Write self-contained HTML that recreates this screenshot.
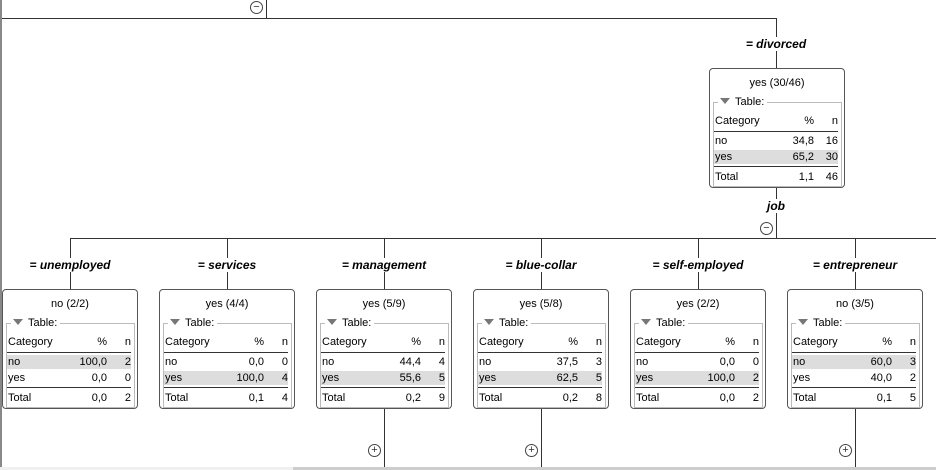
<!DOCTYPE html>
<html><head><meta charset="utf-8"><style>
body{margin:0;width:936px;height:470px;position:relative;overflow:hidden;background:#fff;font-family:"Liberation Sans",sans-serif;font-size:11px;color:#000}
.a{position:absolute}
.l{position:absolute;background:#333}
.box{position:absolute;width:134px;height:118px;border:1px solid #555;border-radius:4px;background:#fff}
.box .t{position:absolute;left:0;right:0;top:8px;text-align:center}
.box .fs{position:absolute;left:3px;top:33px;width:127px;height:83px;border:1px solid #bbb}
.box .lg{position:absolute;left:8px;top:27px;background:#fff;padding:0 3px 0 2px}
.tri{display:inline-block;width:0;height:0;border-left:5px solid transparent;border-right:5px solid transparent;border-top:6px solid #777;margin-right:5px;vertical-align:1px}
.r{position:absolute;left:4px;width:124px;height:14px;line-height:14px}
.r span{position:absolute}
.r .c1{left:1px}.r .c2{right:24px}.r .c3{right:0}
.hl{background:#ddd}
.hr{position:absolute;left:4px;width:124px;height:1px;background:#333}
.el{position:absolute;font-weight:bold;font-style:italic;text-align:center;width:140px;font-size:12px;line-height:14px}
.el span{background:#fff;padding:0 1px}
.circ{position:absolute;width:11px;height:11px;border:1px solid #444;border-radius:50%;font-size:11px;line-height:11px;text-align:center;color:#333;background:#fff}
</style></head><body>
<div class="a" style="left:0;top:0;width:2px;height:470px;background:#888"></div>
<div class="l" style="left:266px;top:0;width:1px;height:18px"></div>
<div class="l" style="left:2px;top:18px;width:775px;height:1px"></div>
<div class="circ" style="left:250px;top:1px">−</div>
<div class="l" style="left:776px;top:18px;width:1px;height:50px"></div>
<div class="el" style="left:706px;top:37px"><span>= divorced</span></div>
<div class="l" style="left:776px;top:188px;width:1px;height:50px"></div>
<div class="el" style="left:706px;top:199px"><span>job</span></div>
<div class="circ" style="left:760px;top:222px">−</div>
<div class="l" style="left:70px;top:238px;width:866px;height:1px"></div>

<div class="box" style="left:709px;top:68px"><div class="t">yes (30/46)</div><div class="fs"></div><div class="lg"><span class="tri"></span>Table:</div>
<div class="r" style="top:45px"><span class="c1">Category</span><span class="c2">%</span><span class="c3">n</span></div><div class="hr" style="top:62px"></div>
<div class="r" style="top:65px"><span class="c1">no</span><span class="c2">34,8</span><span class="c3">16</span></div>
<div class="r hl" style="top:81px"><span class="c1">yes</span><span class="c2">65,2</span><span class="c3">30</span></div><div class="hr" style="top:97px"></div>
<div class="r" style="top:101px"><span class="c1">Total</span><span class="c2">1,1</span><span class="c3">46</span></div></div>

<div class="l" style="left:70px;top:238px;width:1px;height:51px"></div>
<div class="l" style="left:227px;top:238px;width:1px;height:51px"></div>
<div class="l" style="left:384px;top:238px;width:1px;height:51px"></div>
<div class="l" style="left:541px;top:238px;width:1px;height:51px"></div>
<div class="l" style="left:698px;top:238px;width:1px;height:51px"></div>
<div class="l" style="left:855px;top:238px;width:1px;height:51px"></div>
<div class="el" style="left:0;top:258px"><span>= unemployed</span></div>
<div class="el" style="left:157px;top:258px"><span>= services</span></div>
<div class="el" style="left:314px;top:258px"><span>= management</span></div>
<div class="el" style="left:471px;top:258px"><span>= blue-collar</span></div>
<div class="el" style="left:628px;top:258px"><span>= self-employed</span></div>
<div class="el" style="left:785px;top:258px"><span>= entrepreneur</span></div>

<div class="box" style="left:2px;top:289px"><div class="t">no (2/2)</div><div class="fs"></div><div class="lg"><span class="tri"></span>Table:</div>
<div class="r" style="top:45px"><span class="c1">Category</span><span class="c2">%</span><span class="c3">n</span></div><div class="hr" style="top:62px"></div>
<div class="r hl" style="top:65px"><span class="c1">no</span><span class="c2">100,0</span><span class="c3">2</span></div>
<div class="r" style="top:81px"><span class="c1">yes</span><span class="c2">0,0</span><span class="c3">0</span></div><div class="hr" style="top:97px"></div>
<div class="r" style="top:101px"><span class="c1">Total</span><span class="c2">0,0</span><span class="c3">2</span></div></div>

<div class="box" style="left:159px;top:289px"><div class="t">yes (4/4)</div><div class="fs"></div><div class="lg"><span class="tri"></span>Table:</div>
<div class="r" style="top:45px"><span class="c1">Category</span><span class="c2">%</span><span class="c3">n</span></div><div class="hr" style="top:62px"></div>
<div class="r" style="top:65px"><span class="c1">no</span><span class="c2">0,0</span><span class="c3">0</span></div>
<div class="r hl" style="top:81px"><span class="c1">yes</span><span class="c2">100,0</span><span class="c3">4</span></div><div class="hr" style="top:97px"></div>
<div class="r" style="top:101px"><span class="c1">Total</span><span class="c2">0,1</span><span class="c3">4</span></div></div>

<div class="box" style="left:316px;top:289px"><div class="t">yes (5/9)</div><div class="fs"></div><div class="lg"><span class="tri"></span>Table:</div>
<div class="r" style="top:45px"><span class="c1">Category</span><span class="c2">%</span><span class="c3">n</span></div><div class="hr" style="top:62px"></div>
<div class="r" style="top:65px"><span class="c1">no</span><span class="c2">44,4</span><span class="c3">4</span></div>
<div class="r hl" style="top:81px"><span class="c1">yes</span><span class="c2">55,6</span><span class="c3">5</span></div><div class="hr" style="top:97px"></div>
<div class="r" style="top:101px"><span class="c1">Total</span><span class="c2">0,2</span><span class="c3">9</span></div></div>

<div class="box" style="left:473px;top:289px"><div class="t">yes (5/8)</div><div class="fs"></div><div class="lg"><span class="tri"></span>Table:</div>
<div class="r" style="top:45px"><span class="c1">Category</span><span class="c2">%</span><span class="c3">n</span></div><div class="hr" style="top:62px"></div>
<div class="r" style="top:65px"><span class="c1">no</span><span class="c2">37,5</span><span class="c3">3</span></div>
<div class="r hl" style="top:81px"><span class="c1">yes</span><span class="c2">62,5</span><span class="c3">5</span></div><div class="hr" style="top:97px"></div>
<div class="r" style="top:101px"><span class="c1">Total</span><span class="c2">0,2</span><span class="c3">8</span></div></div>

<div class="box" style="left:630px;top:289px"><div class="t">yes (2/2)</div><div class="fs"></div><div class="lg"><span class="tri"></span>Table:</div>
<div class="r" style="top:45px"><span class="c1">Category</span><span class="c2">%</span><span class="c3">n</span></div><div class="hr" style="top:62px"></div>
<div class="r" style="top:65px"><span class="c1">no</span><span class="c2">0,0</span><span class="c3">0</span></div>
<div class="r hl" style="top:81px"><span class="c1">yes</span><span class="c2">100,0</span><span class="c3">2</span></div><div class="hr" style="top:97px"></div>
<div class="r" style="top:101px"><span class="c1">Total</span><span class="c2">0,0</span><span class="c3">2</span></div></div>

<div class="box" style="left:787px;top:289px"><div class="t">no (3/5)</div><div class="fs"></div><div class="lg"><span class="tri"></span>Table:</div>
<div class="r" style="top:45px"><span class="c1">Category</span><span class="c2">%</span><span class="c3">n</span></div><div class="hr" style="top:62px"></div>
<div class="r hl" style="top:65px"><span class="c1">no</span><span class="c2">60,0</span><span class="c3">3</span></div>
<div class="r" style="top:81px"><span class="c1">yes</span><span class="c2">40,0</span><span class="c3">2</span></div><div class="hr" style="top:97px"></div>
<div class="r" style="top:101px"><span class="c1">Total</span><span class="c2">0,1</span><span class="c3">5</span></div></div>

<div class="l" style="left:384px;top:409px;width:1px;height:58px"></div>
<div class="l" style="left:541px;top:409px;width:1px;height:58px"></div>
<div class="l" style="left:855px;top:409px;width:1px;height:58px"></div>
<div class="circ" style="left:368px;top:444px">+</div>
<div class="circ" style="left:525px;top:444px">+</div>
<div class="circ" style="left:839px;top:444px">+</div>

<div class="a" style="left:0;top:467px;width:293px;height:3px;background:#f0f0f0"></div>
<div class="a" style="left:293px;top:467px;width:643px;height:3px;background:#cdcdcd"></div>
</body></html>
